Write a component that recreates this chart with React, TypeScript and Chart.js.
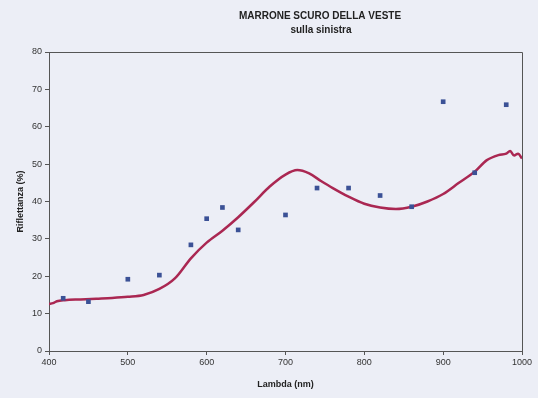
import React, { useEffect, useRef } from "react";
import { Chart, registerables } from "chart.js";

Chart.register(...registerables);

const TITLE = "MARRONE SCURO DELLA VESTE";
const SUBTITLE = "sulla sinistra";
const X_TITLE = "Lambda (nm)";
const Y_TITLE = "Riflettanza (%)";

// Measured points (blue squares)
const pointNm = [418, 450, 500, 540, 580, 600, 620, 640, 700, 740, 780, 820, 860, 900, 940, 980];
const pointVal = [14.1, 13.2, 19.2, 20.3, 28.4, 35.4, 38.4, 32.4, 36.4, 43.6, 43.6, 41.6, 38.6, 66.7, 47.7, 65.9];

// Continuous spectrum curve
const curveNm = [400, 405, 410, 420, 440, 460, 480, 500, 520, 540, 560, 580, 600, 620, 640, 660, 680, 700, 715, 730, 745, 760, 780, 800, 820, 840, 860, 880, 900, 920, 940, 955, 970, 980, 985, 990, 995, 1000];
const curveVal = [12.6, 12.8, 13.3, 13.6, 13.8, 14.0, 14.2, 14.5, 15.0, 16.6, 19.5, 24.8, 29.0, 32.2, 35.8, 39.8, 44.0, 47.2, 48.4, 47.5, 45.5, 43.6, 41.3, 39.4, 38.4, 38.0, 38.6, 40.0, 42.0, 45.0, 48.0, 51.0, 52.4, 52.8, 53.5, 52.3, 52.8, 51.5];

const FONT = "'Liberation Sans', Arial, sans-serif";
const BG = "#eceef6";

export default function App() {
  const ref = useRef<HTMLCanvasElement | null>(null);

  useEffect(() => {
    document.body.style.margin = "0";
    document.body.style.background = BG;
    if (!ref.current) return;

    const bgPlugin = {
      id: "bgAndTitle",
      beforeDraw(chart: any) {
        const ctx = chart.ctx;
        ctx.save();
        ctx.fillStyle = BG;
        ctx.fillRect(0, 0, chart.width, chart.height);
        ctx.restore();
      },
      afterDraw(chart: any) {
        const ctx = chart.ctx;
        const a = chart.chartArea;
        ctx.save();
        ctx.strokeStyle = "#555";
        ctx.lineWidth = 1;
        ctx.beginPath();
        ctx.moveTo(a.left, a.top + 0.5);
        ctx.lineTo(a.right + 0.5, a.top + 0.5);
        ctx.lineTo(a.right + 0.5, a.bottom);
        ctx.stroke();
        ctx.fillStyle = "#222";
        ctx.textAlign = "center";
        ctx.textBaseline = "middle";
        ctx.font = "bold 10px " + FONT;
        ctx.fillText(TITLE, 320, 16);
        ctx.fillText(SUBTITLE, 321, 30);
        ctx.restore();
      },
    };

    const chart = new Chart(ref.current, {
      type: "scatter",
      data: {
        datasets: [
          {
            label: "curve",
            data: curveNm.map((x, i) => ({ x, y: curveVal[i] })),
            showLine: true,
            borderColor: "#aa2752",
            borderWidth: 2.5,
            pointRadius: 0,
            tension: 0.4,
            cubicInterpolationMode: "monotone",
            order: 2,
          },
          {
            label: "points",
            data: pointNm.map((x, i) => ({ x, y: pointVal[i] })),
            showLine: false,
            pointStyle: "rect",
            pointRadius: 3.3,
            backgroundColor: "#3b5196",
            borderColor: "#3b5196",
            borderWidth: 0,
            order: 1,
          },
        ],
      },
      options: {
        animation: false,
        responsive: false,
        maintainAspectRatio: false,
        layout: { padding: { left: 15, right: 16, top: 52, bottom: 8 } },
        plugins: {
          legend: { display: false },
          title: { display: false },
          tooltip: { enabled: false },
        },
        scales: {
          x: {
            type: "linear",
            min: 400,
            max: 1000,
            ticks: { stepSize: 100, color: "#333", font: { family: FONT, size: 9 }, padding: 2, callback: (v: any) => String(v) },
            grid: { drawOnChartArea: false, drawTicks: true, tickLength: 4, color: "#555" },
            border: { display: true, color: "#555", width: 1 },
            title: { display: true, text: X_TITLE, color: "#222", font: { family: FONT, size: 9, weight: "bold" }, padding: { top: 2, bottom: 0 } },
            afterFit: (s: any) => { s.height = 39; },
          },
          y: {
            min: 0,
            max: 80,
            ticks: { stepSize: 10, color: "#333", font: { family: FONT, size: 9 }, padding: 3 },
            grid: { drawOnChartArea: false, drawTicks: true, tickLength: 4, color: "#555" },
            border: { display: true, color: "#555", width: 1 },
            title: { display: true, text: Y_TITLE, color: "#222", font: { family: FONT, size: 9, weight: "bold" }, padding: 0 },
            afterFit: (s: any) => { s.width = 34; },
          },
        },
      },
      plugins: [bgPlugin],
    } as any);

    return () => chart.destroy();
  }, []);

  return (
    <div style={{ width: 538, height: 398, background: BG }}>
      <canvas ref={ref} width={538} height={398} style={{ display: "block", width: 538, height: 398 }} />
    </div>
  );
}
